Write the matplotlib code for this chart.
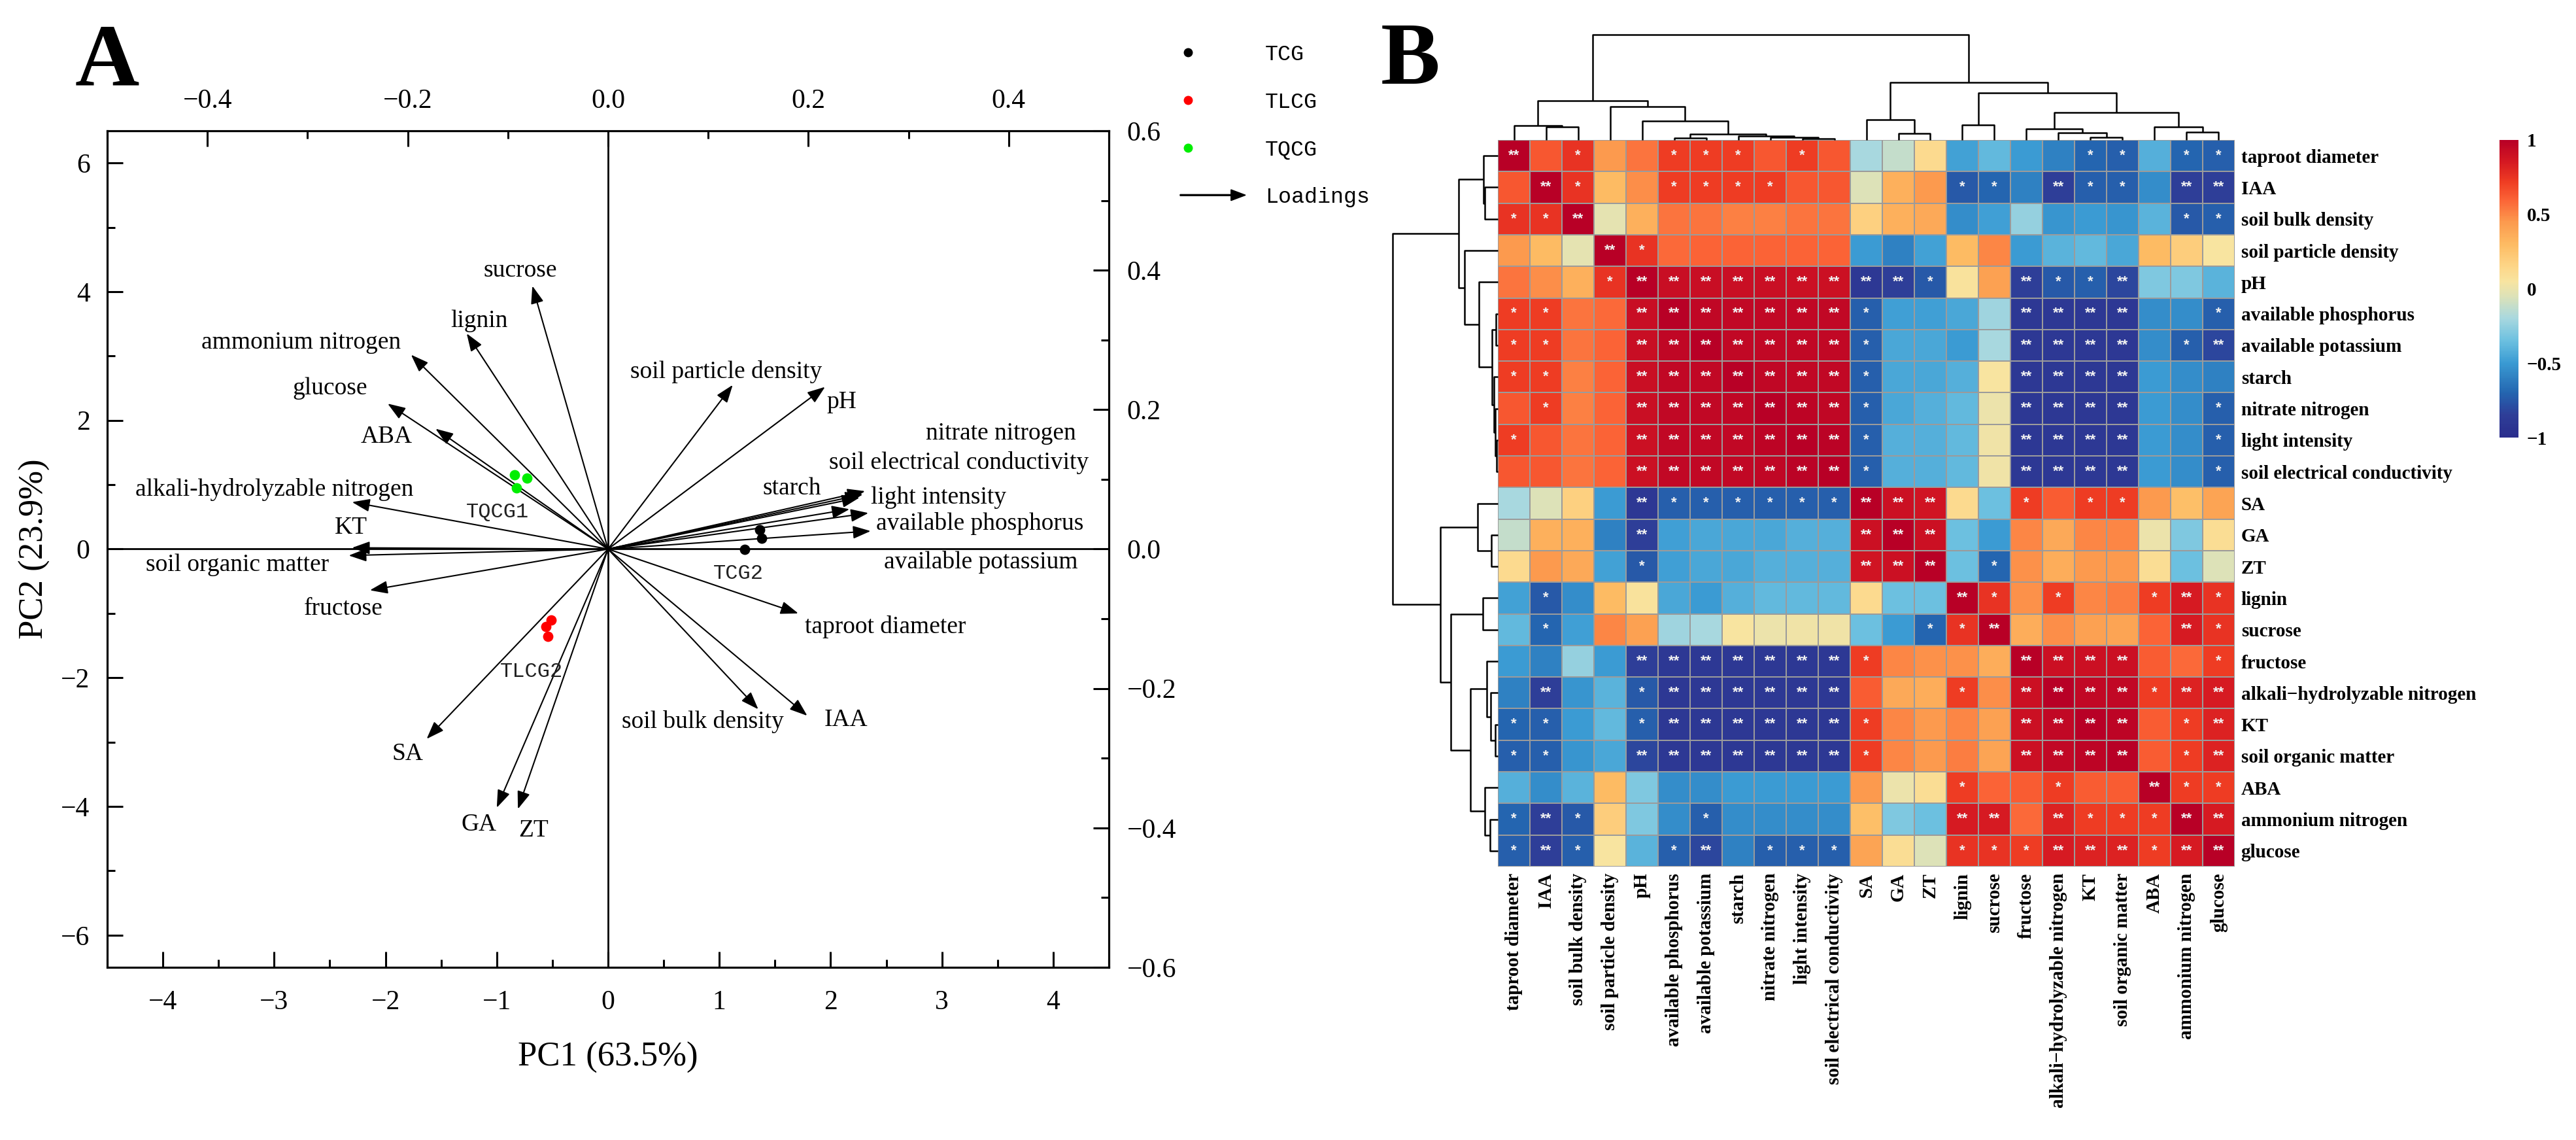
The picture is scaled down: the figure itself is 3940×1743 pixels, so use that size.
import numpy as np
import matplotlib
matplotlib.use("Agg")
import matplotlib.pyplot as plt
import matplotlib.patches as mpatches
from matplotlib.colors import LinearSegmentedColormap
from matplotlib.lines import Line2D
from matplotlib.legend_handler import HandlerPatch, HandlerLine2D
from matplotlib.ticker import MultipleLocator

plt.rcParams["font.family"] = ["Liberation Serif", "DejaVu Sans"]

# ---------------- Panel A : PCA biplot ----------------
loading_names = ["sucrose", "lignin", "ammonium nitrogen", "glucose", "ABA",
                 "alkali-hydrolyzable nitrogen", "KT", "soil organic matter", "fructose",
                 "SA", "GA", "ZT", "soil particle density", "pH", "nitrate nitrogen",
                 "light intensity", "soil electrical conductivity", "starch",
                 "available phosphorus", "available potassium", "taproot diameter",
                 "soil bulk density", "IAA"]
# arrow tips (PC1 / PC2 score scale)
loading_x = [-0.68, -1.27, -1.77, -1.98, -1.55, -2.30, -2.30, -2.33, -2.14,
             -1.63, -1.00, -0.81, 1.12, 1.95, 2.31, 2.29, 2.26, 2.17, 2.34, 2.36,
             1.71, 1.35, 1.79]
loading_y = [4.09, 3.35, 3.02, 2.26, 1.87, 0.73, 0.02, -0.10, -0.64,
             -2.95, -4.02, -4.04, 2.55, 2.52, 0.90, 0.85, 0.80, 0.62, 0.56, 0.28,
             -1.00, -2.49, -2.59]
# label anchor points
label_x = [-0.79, -1.16, -2.76, -2.50, -1.99, -3.00, -2.31, -3.33, -2.38,
           -1.80, -1.16, -0.67, 1.06, 2.10, 3.53, 2.97, 3.15, 1.65, 3.34, 3.35,
           2.49, 0.85, 2.14]
label_y = [4.33, 3.54, 3.21, 2.50, 1.75, 0.93, 0.33, -0.25, -0.93,
           -3.18, -4.28, -4.37, 2.75, 2.28, 1.80, 0.80, 1.34, 0.94, 0.40, -0.20,
           -1.21, -2.68, -2.66]

groups = ["TCG", "TLCG", "TQCG"]
group_colors = ["black", "#ff0000", "#00ee00"]
group_x = [[1.23, 1.36, 1.38], [-0.51, -0.56, -0.54], [-0.84, -0.73, -0.82]]
group_y = [[-0.01, 0.30, 0.17], [-1.10, -1.20, -1.36], [1.15, 1.10, 0.95]]
group_tags = ["TCG2", "TLCG2", "TQCG1"]
tag_x = [1.17, -0.69, -0.99]
tag_y = [-0.38, -1.91, 0.57]

# ---------------- Panel B : correlation heatmap ----------------
variables = ["taproot diameter", "IAA", "soil bulk density", "soil particle density", "pH",
             "available phosphorus", "available potassium", "starch", "nitrate nitrogen",
             "light intensity", "soil electrical conductivity", "SA", "GA", "ZT", "lignin",
             "sucrose", "fructose", "alkali\u2212hydrolyzable nitrogen", "KT",
             "soil organic matter", "ABA", "ammonium nitrogen", "glucose"]

# upper triangle of the correlation matrix, row i holds columns i+1 .. 22
corr_upper = [
    [0.64, 0.75, 0.45, 0.55, 0.72, 0.72, 0.72, 0.64, 0.72, 0.64, -0.20, -0.12, 0.12, -0.47, -0.38, -0.50, -0.60, -0.70, -0.72, -0.42, -0.70, -0.72],
    [0.75, 0.30, 0.48, 0.72, 0.72, 0.72, 0.72, 0.64, 0.64, -0.05, 0.35, 0.45, -0.75, -0.70, -0.60, -0.85, -0.72, -0.72, -0.55, -0.85, -0.85],
    [-0.02, 0.35, 0.55, 0.55, 0.52, 0.52, 0.55, 0.55, 0.18, 0.35, 0.38, -0.55, -0.48, -0.25, -0.52, -0.50, -0.52, -0.40, -0.75, -0.72],
    [0.75, 0.58, 0.60, 0.60, 0.60, 0.60, 0.60, -0.50, -0.60, -0.47, 0.30, 0.50, -0.50, -0.40, -0.38, -0.45, 0.30, 0.20, 0.05],
    [0.92, 0.92, 0.91, 0.91, 0.90, 0.90, -0.90, -0.85, -0.75, 0.07, 0.42, -0.85, -0.75, -0.72, -0.82, -0.30, -0.30, -0.40],
    [0.96, 0.95, 0.95, 0.95, 0.95, -0.72, -0.48, -0.48, -0.45, -0.22, -0.90, -0.90, -0.90, -0.90, -0.55, -0.55, -0.72],
    [0.95, 0.95, 0.95, 0.95, -0.72, -0.45, -0.45, -0.50, -0.20, -0.90, -0.90, -0.90, -0.90, -0.55, -0.72, -0.82],
    [0.96, 0.95, 0.95, -0.72, -0.45, -0.45, -0.42, 0.05, -0.90, -0.90, -0.90, -0.90, -0.50, -0.55, -0.60],
    [0.97, 0.96, -0.72, -0.45, -0.42, -0.38, 0.00, -0.90, -0.90, -0.90, -0.90, -0.50, -0.55, -0.72],
    [0.98, -0.72, -0.42, -0.42, -0.38, 0.02, -0.90, -0.90, -0.90, -0.90, -0.50, -0.55, -0.72],
    [-0.72, -0.42, -0.42, -0.38, 0.02, -0.90, -0.90, -0.90, -0.90, -0.50, -0.55, -0.72],
    [0.90, 0.88, 0.12, -0.35, 0.72, 0.62, 0.72, 0.72, 0.45, 0.28, 0.40],
    [0.90, -0.35, -0.50, 0.50, 0.38, 0.50, 0.50, 0.00, -0.30, 0.10],
    [-0.35, -0.70, 0.47, 0.36, 0.45, 0.45, 0.10, -0.35, -0.05],
    [0.75, 0.47, 0.72, 0.50, 0.53, 0.72, 0.85, 0.75],
    [0.36, 0.48, 0.42, 0.40, 0.60, 0.85, 0.75],
    [0.90, 0.90, 0.90, 0.62, 0.58, 0.72],
    [0.95, 0.95, 0.72, 0.82, 0.85],
    [0.97, 0.62, 0.72, 0.82],
    [0.62, 0.72, 0.82],
    [0.72, 0.72],
    [0.85],
]
n_samples = 9  # 3 groups x 3 replicates -> critical r values
r_crit_05 = 0.666
r_crit_01 = 0.798

# hierarchical clustering tree (left, right, merge height), leaves = variable index
cluster_tree = (
    ((0, (1, 2, 20), 22),
     (3, (4, ((5, 6, 3), (7, (8, (9, 10, 2), 4), 6), 9), 29), 51), 60),
    ((11, (12, 13, 10), 31),
     ((14, 15, 23),
      ((16, (17, (18, 19, 4), 11), 17), (20, (21, 22, 12), 20), 42), 72), 88),
    161)

n = len(variables)
corr = np.eye(n)
for i, row in enumerate(corr_upper):
    corr[i, i + 1:] = row
    corr[i + 1:, i] = row

cmap = LinearSegmentedColormap.from_list("corr", [
    (0.000, "#2a2d8c"), (0.075, "#2e3e98"), (0.150, "#2466b0"), (0.250, "#3a9bd3"),
    (0.325, "#6cc0e0"), (0.400, "#a8d8df"), (0.475, "#dde2b8"), (0.525, "#f8e4a0"),
    (0.575, "#fdd688"), (0.650, "#fdbb63"), (0.725, "#fc9a4e"), (0.800, "#fb6336"),
    (0.860, "#ef3d23"), (0.925, "#d61a22"), (1.000, "#b80026")])

W, H = 3940, 1743
fig = plt.figure(figsize=(W / 100, H / 100), dpi=100)

# ---------------- draw panel A ----------------
ax = fig.add_axes([164 / W, 1 - 1479 / H, 1532 / W, 1279 / H])
axt = ax.twiny()
axr = ax.twinx()
ax.set_xlim(-4.5, 4.5)
ax.set_ylim(-6.5, 6.5)
axt.set_xlim(-0.5, 0.5)
axr.set_ylim(-0.6, 0.6)

ax.axhline(0, color="black", lw=2, zorder=1)
ax.axvline(0, color="black", lw=2, zorder=1)

for name, x, y, lx, ly in zip(loading_names, loading_x, loading_y, label_x, label_y):
    ax.annotate("", xy=(x, y), xytext=(0, 0),
                arrowprops=dict(arrowstyle="-|>,head_length=0.55,head_width=0.2",
                                lw=1.5, color="black", shrinkA=0, shrinkB=0,
                                mutation_scale=30), zorder=2)
    ax.text(lx, ly, name, ha="center", va="center", fontsize=27, zorder=3)

for g, c, xs, ys in zip(groups, group_colors, group_x, group_y):
    ax.scatter(xs, ys, s=130, color=c, zorder=4, linewidths=0)
for t, tx, ty in zip(group_tags, tag_x, tag_y):
    ax.text(tx, ty, t, ha="center", va="center", fontsize=23,
            family="Liberation Mono", color="#222222", zorder=3)

ax.xaxis.set_major_locator(MultipleLocator(1))
ax.xaxis.set_minor_locator(MultipleLocator(0.5))
ax.yaxis.set_major_locator(MultipleLocator(2))
ax.yaxis.set_minor_locator(MultipleLocator(1))
axt.xaxis.set_major_locator(MultipleLocator(0.2))
axt.xaxis.set_minor_locator(MultipleLocator(0.1))
axr.yaxis.set_major_locator(MultipleLocator(0.2))
axr.yaxis.set_minor_locator(MultipleLocator(0.1))

for a in (ax, axt, axr):
    a.tick_params(which="both", direction="in", width=2.2, labelsize=30)
    a.tick_params(which="major", length=17)
    a.tick_params(which="minor", length=8.5)
    for s in a.spines.values():
        s.set_linewidth(2.2)
ax.tick_params(axis="x", which="both", top=False, pad=25)
ax.tick_params(axis="y", which="both", right=False, pad=19)
axt.tick_params(axis="x", which="both", bottom=False, pad=19)
axr.tick_params(axis="y", which="both", left=False, pad=20)

ax.set_xlabel("PC1 (63.5%)", fontsize=38)
ax.set_ylabel("PC2 (23.9%)", fontsize=38)
ax.xaxis.set_label_coords(0.5, -0.089)
ax.yaxis.set_label_coords(-0.057, 0.5)


# legend
class LeftMarker(HandlerLine2D):
    def get_xdata(self, legend, xdescent, ydescent, width, height, fontsize):
        x = np.array([-xdescent + 0.12 * width])
        return x, x


def arrow_handle(legend, orig_handle, xdescent, ydescent, width, height, fontsize):
    return mpatches.FancyArrow(-xdescent, height / 2 - ydescent, width, 0, width=1.4,
                               head_width=12, head_length=16, length_includes_head=True,
                               color="black")


handles = [Line2D([], [], ls="", marker="o", ms=9, color=c) for c in group_colors]
arrow_key = mpatches.FancyArrow(0, 0, 1, 0, color="black")
hmap = {h: LeftMarker() for h in handles}
hmap[arrow_key] = HandlerPatch(patch_func=arrow_handle)
handles.append(arrow_key)
fig.legend(handles, groups + ["Loadings"], loc="upper left",
           bbox_to_anchor=(1805 / W, 1 - 68 / H), frameon=False,
           prop=dict(family="Liberation Mono", size=24), handlelength=3.0,
           handletextpad=0.9, labelspacing=1.25, borderpad=0, borderaxespad=0,
           handler_map=hmap)

fig.text(115 / W, 1 - 130 / H, "A", fontsize=98, fontweight="bold", va="baseline")
fig.text(2112 / W, 1 - 128 / H, "B", fontsize=98, fontweight="bold", va="baseline")

# ---------------- draw panel B ----------------
hx0, hy0, hw, hh = 2291, 214, 1127, 1111
axh = fig.add_axes([hx0 / W, 1 - (hy0 + hh) / H, hw / W, hh / H])
mesh = axh.pcolormesh(np.arange(n + 1), np.arange(n + 1), corr, cmap=cmap,
                      vmin=-1, vmax=1, edgecolors="#9b9b9b", linewidth=1.3)
axh.set_xlim(0, n)
axh.set_ylim(n, 0)
for i in range(n):
    for j in range(n):
        r = abs(corr[i, j])
        mark = "**" if r >= r_crit_01 else ("*" if r >= r_crit_05 else "")
        if mark:
            axh.text(j + 0.5, i + 0.5, mark, ha="center", va="center", fontsize=16,
                     family="Liberation Sans", fontweight="bold", color="#f2f2f2")
axh.set_xticks(np.arange(n) + 0.5)
axh.set_xticklabels(variables, rotation=90, fontsize=21, fontweight="bold")
axh.set_yticks(np.arange(n) + 0.5)
axh.set_yticklabels(variables, fontsize=21, fontweight="bold")
axh.yaxis.tick_right()
axh.tick_params(length=0)
axh.tick_params(axis="x", pad=7)
axh.tick_params(axis="y", pad=7)
for s in axh.spines.values():
    s.set_visible(False)


def draw_tree(node, a, side):
    if isinstance(node, int):
        return node + 0.5, 0.0
    left, right, h = node
    pl, hl = draw_tree(left, a, side)
    pr, hr = draw_tree(right, a, side)
    pos = [pl, pl, pr, pr]
    hts = [hl, h, h, hr]
    if side == "top":
        a.plot(pos, hts, color="black", lw=1.8, clip_on=False, solid_capstyle="butt")
    else:
        a.plot(hts, pos, color="black", lw=1.8, clip_on=False, solid_capstyle="butt")
    return (pl + pr) / 2, h


tree_h = 161
axd_top = fig.add_axes([hx0 / W, 1 - hy0 / H, hw / W, tree_h / H])
draw_tree(cluster_tree, axd_top, "top")
axd_top.set_xlim(0, n)
axd_top.set_ylim(0, tree_h)
axd_top.axis("off")

axd_left = fig.add_axes([(hx0 - tree_h) / W, 1 - (hy0 + hh) / H, tree_h / W, hh / H])
draw_tree(cluster_tree, axd_left, "left")
axd_left.set_xlim(tree_h, 0)
axd_left.set_ylim(n, 0)
axd_left.axis("off")

cax = fig.add_axes([3823 / W, 1 - 669 / H, 29 / W, 455 / H])
cb = fig.colorbar(mesh, cax=cax, ticks=[-1, -0.5, 0, 0.5, 1])
cb.set_ticklabels(["\u22121", "\u22120.5", "0", "0.5", "1"])
cb.outline.set_visible(False)
cax.tick_params(length=0, pad=9, labelsize=21)
for t in cax.get_yticklabels():
    t.set_fontweight("bold")

fig.savefig("out.png", dpi=100)
